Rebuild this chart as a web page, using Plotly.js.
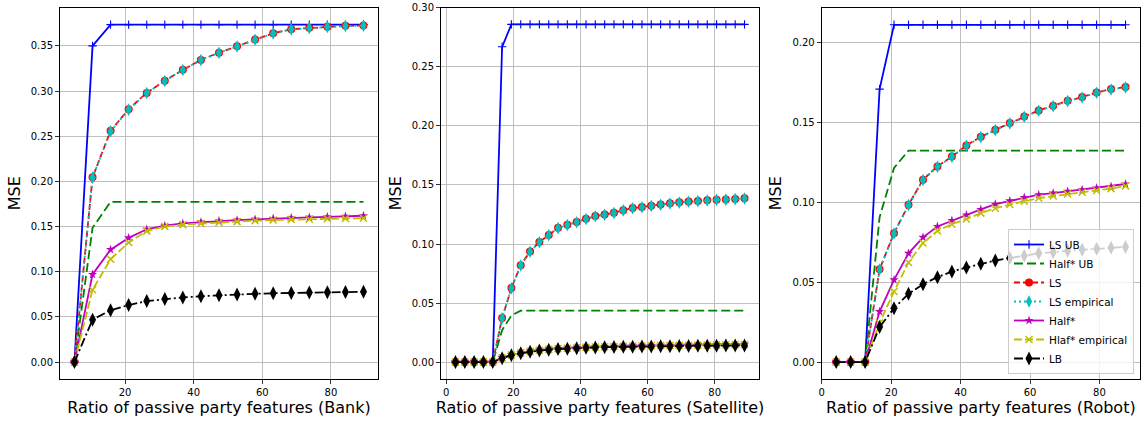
<!DOCTYPE html>
<html>
<head>
<meta charset="utf-8">
<script src="https://cdn.plot.ly/plotly-3.0.1.min.js"></script>
<style>html,body{margin:0;padding:0;background:#fff;}#chart{width:1147px;height:421px;}</style>
</head>
<body>
<div id="chart"></div>
<script>
// ---------- Data ----------
const seriesNames = ["LS UB", "Half* UB", "LS", "LS empirical", "Half*", "Hlaf* empirical", "LB"];

// Bank
const bankX = [5.26, 10.53, 15.79, 21.05, 26.32, 31.58, 36.84, 42.11, 47.37, 52.63, 57.89, 63.16, 68.42, 73.68, 78.95, 84.21, 89.47];
const bankLSUB = [0, 0.350, 0.3735, 0.3735, 0.3735, 0.3735, 0.3735, 0.3735, 0.3735, 0.3735, 0.3735, 0.3735, 0.3735, 0.3735, 0.3735, 0.3735, 0.3735];
const bankHalfUB = [0, 0.1486, 0.1774, 0.1774, 0.1774, 0.1774, 0.1774, 0.1774, 0.1774, 0.1774, 0.1774, 0.1774, 0.1774, 0.1774, 0.1774, 0.1774, 0.1774];
const bankLS = [0, 0.2045, 0.2560, 0.2800, 0.2980, 0.3115, 0.3235, 0.3345, 0.3425, 0.3495, 0.3570, 0.3640, 0.3685, 0.3700, 0.3712, 0.3722, 0.3725];
const bankLSemp = [0, 0.2042, 0.2555, 0.2795, 0.2978, 0.3112, 0.3233, 0.3343, 0.3423, 0.3493, 0.3568, 0.3638, 0.3683, 0.3698, 0.3710, 0.3720, 0.3724];
const bankHalf = [0, 0.0970, 0.1245, 0.1375, 0.1470, 0.1510, 0.1535, 0.1550, 0.1562, 0.1572, 0.1580, 0.1590, 0.1597, 0.1603, 0.1608, 0.1614, 0.1620];
const bankHalfEmp = [0, 0.0800, 0.1140, 0.1325, 0.1450, 0.1500, 0.1522, 0.1535, 0.1545, 0.1555, 0.1565, 0.1572, 0.1578, 0.1582, 0.1586, 0.1590, 0.1593];
const bankLB = [0, 0.0470, 0.0573, 0.0632, 0.0675, 0.0698, 0.0716, 0.0729, 0.0740, 0.0749, 0.0756, 0.0762, 0.0766, 0.0770, 0.0773, 0.0776, 0.0778];

// Satellite
const satX = [2.78, 5.56, 8.33, 11.11, 13.89, 16.67, 19.44, 22.22, 25.00, 27.78, 30.56, 33.33, 36.11, 38.89, 41.67, 44.44, 47.22, 50.00, 52.78, 55.56, 58.33, 61.11, 63.89, 66.67, 69.44, 72.22, 75.00, 77.78, 80.56, 83.33, 86.11, 88.89];
const satLSUB = [0, 0, 0, 0, 0, 0.267, 0.286, 0.286, 0.286, 0.286, 0.286, 0.286, 0.286, 0.286, 0.286, 0.286, 0.286, 0.286, 0.286, 0.286, 0.286, 0.286, 0.286, 0.286, 0.286, 0.286, 0.286, 0.286, 0.286, 0.286, 0.286, 0.286];
const satHalfUB = [0, 0, 0, 0, 0, 0.027, 0.0395, 0.0436, 0.0436, 0.0436, 0.0436, 0.0436, 0.0436, 0.0436, 0.0436, 0.0436, 0.0436, 0.0436, 0.0436, 0.0436, 0.0436, 0.0436, 0.0436, 0.0436, 0.0436, 0.0436, 0.0436, 0.0436, 0.0436, 0.0436, 0.0436, 0.0436];
const satLS = [0, 0, 0, 0, 0, 0.0373, 0.0627, 0.0820, 0.0937, 0.1017, 0.1077, 0.1137, 0.1163, 0.1186, 0.1214, 0.1237, 0.1250, 0.1265, 0.1287, 0.1305, 0.1313, 0.1325, 0.1335, 0.1345, 0.1353, 0.1360, 0.1365, 0.1370, 0.1376, 0.1378, 0.1382, 0.1387];
const satLSemp = [0, 0, 0, 0, 0, 0.0371, 0.0625, 0.0818, 0.0935, 0.1015, 0.1075, 0.1135, 0.1161, 0.1184, 0.1212, 0.1235, 0.1248, 0.1263, 0.1285, 0.1303, 0.1311, 0.1323, 0.1333, 0.1343, 0.1351, 0.1358, 0.1363, 0.1368, 0.1374, 0.1376, 0.1380, 0.1385];
const satHalf = [0, 0, 0, 0, 0, 0.0038, 0.0062, 0.0080, 0.0093, 0.0103, 0.0110, 0.0116, 0.0120, 0.0124, 0.0127, 0.0130, 0.0132, 0.0134, 0.0136, 0.0138, 0.0139, 0.0141, 0.0142, 0.0143, 0.0144, 0.0145, 0.0146, 0.0147, 0.0148, 0.0149, 0.0150, 0.0151];
const satHalfEmp = [0, 0, 0, 0, 0, 0.0036, 0.0060, 0.0078, 0.0091, 0.0101, 0.0108, 0.0114, 0.0118, 0.0122, 0.0125, 0.0128, 0.0130, 0.0132, 0.0134, 0.0136, 0.0137, 0.0139, 0.0140, 0.0141, 0.0142, 0.0143, 0.0144, 0.0145, 0.0146, 0.0147, 0.0148, 0.0149];
const satLB = [0, 0, 0, 0, 0, 0.0032, 0.0058, 0.0075, 0.0088, 0.0098, 0.0105, 0.0110, 0.0114, 0.0118, 0.0121, 0.0124, 0.0126, 0.0128, 0.0130, 0.0131, 0.0132, 0.0133, 0.0134, 0.0135, 0.0136, 0.0137, 0.0138, 0.0139, 0.0139, 0.0140, 0.0141, 0.0141];

// Robot
const robX = [4.17, 8.33, 12.50, 16.67, 20.83, 25.00, 29.17, 33.33, 37.50, 41.67, 45.83, 50.00, 54.17, 58.33, 62.50, 66.67, 70.83, 75.00, 79.17, 83.33, 87.50];
const robLSUB = [0, 0, 0, 0.1706, 0.2108, 0.2108, 0.2108, 0.2108, 0.2108, 0.2108, 0.2108, 0.2108, 0.2108, 0.2108, 0.2108, 0.2108, 0.2108, 0.2108, 0.2108, 0.2108, 0.2108];
const robHalfUB = [0, 0, 0, 0.0905, 0.1213, 0.1322, 0.1322, 0.1322, 0.1322, 0.1322, 0.1322, 0.1322, 0.1322, 0.1322, 0.1322, 0.1322, 0.1322, 0.1322, 0.1322, 0.1322, 0.1322];
const robLS = [0, 0, 0, 0.0580, 0.0806, 0.0983, 0.1140, 0.1223, 0.1285, 0.1354, 0.1408, 0.1452, 0.1494, 0.1535, 0.1573, 0.1602, 0.1633, 0.1656, 0.1685, 0.1706, 0.1719];
const robLSemp = [0, 0, 0, 0.0578, 0.0804, 0.0981, 0.1138, 0.1221, 0.1283, 0.1352, 0.1406, 0.1450, 0.1492, 0.1533, 0.1571, 0.1600, 0.1631, 0.1654, 0.1683, 0.1704, 0.1717];
const robHalf = [0, 0, 0, 0.0316, 0.0514, 0.0680, 0.0780, 0.0848, 0.0885, 0.0920, 0.0954, 0.0987, 0.1008, 0.1029, 0.1046, 0.1056, 0.1067, 0.1077, 0.1088, 0.1098, 0.1113];
const robHalfEmp = [0, 0, 0, 0.0245, 0.0441, 0.0623, 0.0744, 0.0820, 0.0862, 0.0894, 0.0931, 0.0962, 0.0985, 0.1005, 0.1025, 0.1038, 0.1050, 0.1062, 0.1073, 0.1084, 0.1100];
const robLB = [0, 0, 0, 0.0219, 0.0337, 0.0427, 0.0487, 0.0531, 0.0566, 0.0591, 0.0614, 0.0635, 0.0650, 0.0664, 0.0680, 0.0687, 0.0696, 0.0702, 0.0708, 0.0714, 0.0720];

const xTitles = ["Ratio of passive party features (Bank)", "Ratio of passive party features (Satellite)", "Ratio of passive party features (Robot)"];
const yTitle = "MSE";

// ---------- Styles ----------
const styles = [
  {line: {color: "#0000ff", width: 1.8, dash: "solid"}, marker: {symbol: "cross-thin-open", size: 6, color: "#0000ff", line: {color: "#0000ff", width: 1.1}}, mode: "lines+markers"},
  {line: {color: "#008000", width: 1.8, dash: "9px,4px"}, mode: "lines"},
  {line: {color: "#ff0000", width: 1.8, dash: "6px,3px"}, marker: {symbol: "circle", size: 8, color: "#ff0000"}, mode: "lines+markers"},
  {line: {color: "#00bfbf", width: 1.8, dash: "2px,3px"}, marker: {symbol: "diamond-tall", size: 9, color: "#00bfbf"}, mode: "lines+markers"},
  {line: {color: "#bf00bf", width: 1.8, dash: "solid"}, marker: {symbol: "star", size: 7, color: "#bf00bf"}, mode: "lines+markers"},
  {line: {color: "#bfbf00", width: 1.8, dash: "8px,3px"}, marker: {symbol: "x-thin-open", size: 7, color: "#bfbf00", line: {color: "#bfbf00", width: 1.5}}, mode: "lines+markers"},
  {line: {color: "#000000", width: 1.8, dash: "9px,3px,2px,3px"}, marker: {symbol: "diamond-tall", size: 10, color: "#000000"}, mode: "lines+markers"}
];

const panels = [
  {x: bankX, ys: [bankLSUB, bankHalfUB, bankLS, bankLSemp, bankHalf, bankHalfEmp, bankLB]},
  {x: satX, ys: [satLSUB, satHalfUB, satLS, satLSemp, satHalf, satHalfEmp, satLB]},
  {x: robX, ys: [robLSUB, robHalfUB, robLS, robLSemp, robHalf, robHalfEmp, robLB]}
];

const traces = [];
panels.forEach((p, pi) => {
  p.ys.forEach((y, si) => {
    const s = styles[si];
    const t = {
      type: "scatter", x: p.x, y: y, name: seriesNames[si], mode: s.mode,
      line: s.line, xaxis: pi === 0 ? "x" : "x" + (pi + 1), yaxis: pi === 0 ? "y" : "y" + (pi + 1),
      showlegend: pi === 2
    };
    if (s.marker) t.marker = s.marker;
    traces.push(t);
  });
});

const W = 1147, H = 421;
const font = {family: "DejaVu Sans, sans-serif", size: 10, color: "#000"};
const titleFont = {family: "DejaVu Sans, sans-serif", size: 16, color: "#000"};
function xax(d0, d1, range, title, anchor) {
  return {domain: [d0 / W, d1 / W], range: range, anchor: anchor, tickmode: "array", tickvals: [0, 20, 40, 60, 80],
    showgrid: true, gridcolor: "#b0b0b0", gridwidth: 0.8, zeroline: false, showline: true, linecolor: "#000", linewidth: 1,
    mirror: true, ticks: "outside", ticklen: 4, tickwidth: 0.8, tickcolor: "#000", tickfont: font,
    title: {text: title, font: titleFont, standoff: 2}, automargin: false};
}
function yax(range, dtick, anchor) {
  return {domain: [1 - 379 / H, 1 - 7.5 / H], range: range, anchor: anchor, dtick: dtick, tick0: 0, tickformat: ".2f",
    showgrid: true, gridcolor: "#b0b0b0", gridwidth: 0.8, zeroline: false, showline: true, linecolor: "#000", linewidth: 1,
    mirror: true, ticks: "outside", ticklen: 4, tickwidth: 0.8, tickcolor: "#000", tickfont: font,
    title: {text: yTitle, font: titleFont, standoff: 6}, automargin: false};
}

const layout = {
  width: W, height: H, margin: {l: 0, r: 0, t: 0, b: 0}, paper_bgcolor: "#fff", plot_bgcolor: "#fff",
  font: font, showlegend: true,
  xaxis: xax(60, 378, [1.05, 93.7], xTitles[0], "y"),
  yaxis: yax([-0.0187, 0.3925], 0.05, "x"),
  xaxis2: xax(441, 759, [-1.53, 93.2], xTitles[1], "y2"),
  yaxis2: yax([-0.0143, 0.3003], 0.05, "x2"),
  xaxis3: xax(821.7, 1140, [0, 91.67], xTitles[2], "y3"),
  yaxis3: yax([-0.01055, 0.2216], 0.05, "x3"),
  legend: {x: 1134 / W, xanchor: "right", y: 1 - 374 / H, yanchor: "bottom", bgcolor: "rgba(255,255,255,0.8)",
    bordercolor: "#cccccc", borderwidth: 1, font: {family: "DejaVu Sans, sans-serif", size: 10.5, color: "#000"},
    tracegroupgap: 0, itemwidth: 30}
};

Plotly.newPlot("chart", traces, layout, {displayModeBar: false, staticPlot: true});
</script>
</body>
</html>
